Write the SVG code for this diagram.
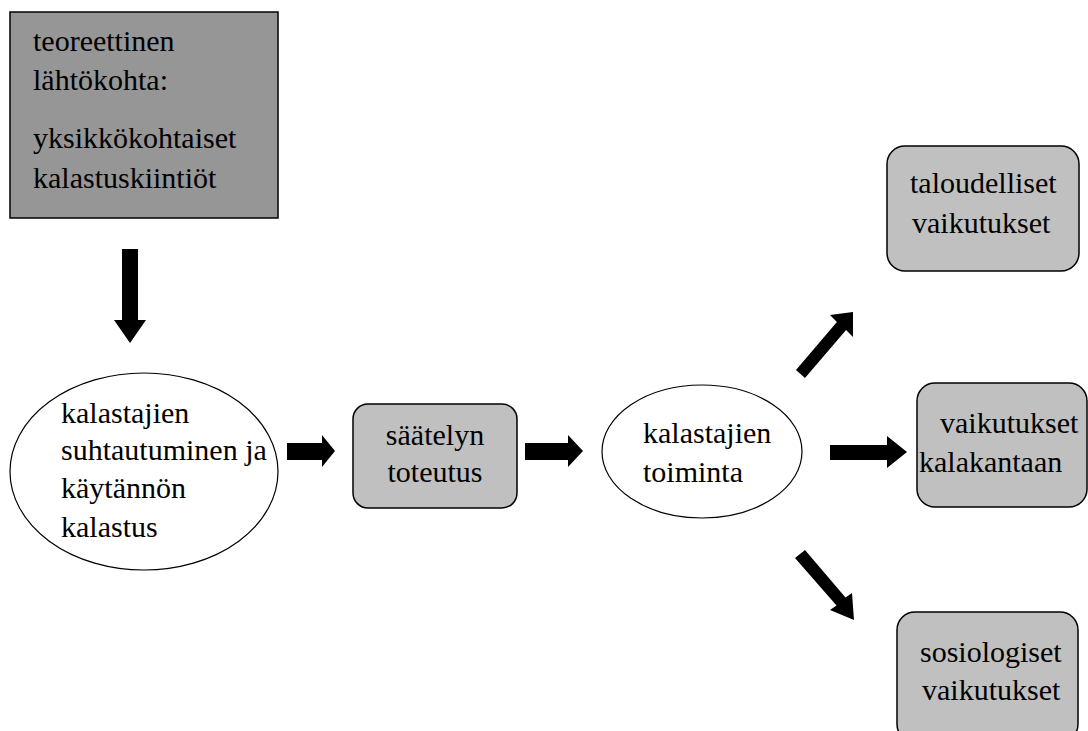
<svg xmlns="http://www.w3.org/2000/svg" width="1088" height="731" viewBox="0 0 1088 731">
<style>
.t{font-family:'Liberation Serif','Times New Roman',Tinos,'DejaVu Serif',serif;font-size:30px;fill:#000}
.dark{fill:#969696;stroke:#000;stroke-width:1.5}
.box{fill:#c0c0c0;stroke:#000;stroke-width:1.5}
.ell{fill:#fff;stroke:#000;stroke-width:1.2}
.arr{fill:#000}
</style>
<rect width="1088" height="731" fill="#fff"/>
<g id="n-theory">
<rect class="dark" x="10" y="12" width="268" height="206"/>
<text class="t" font-family="Liberation Serif, serif" x="33" y="51">teoreettinen</text>
<text class="t" font-family="Liberation Serif, serif" x="33" y="90">lähtökohta:</text>
<text class="t" font-family="Liberation Serif, serif" x="33" y="148">yksikkökohtaiset</text>
<text class="t" font-family="Liberation Serif, serif" x="33" y="188">kalastuskiintiöt</text>
</g>
<g id="n-attitude">
<ellipse class="ell" cx="144" cy="471.5" rx="134" ry="98.5"/>
<text class="t" x="61" y="423">kalastajien</text>
<text class="t" x="61" y="460">suhtautuminen ja</text>
<text class="t" x="61" y="498">käytännön</text>
<text class="t" x="61" y="537">kalastus</text>
</g>
<g id="n-implementation">
<rect class="box" x="353" y="404" width="164" height="104" rx="15"/>
<text class="t" x="435" y="445" text-anchor="middle">säätelyn</text>
<text class="t" x="435" y="482" text-anchor="middle">toteutus</text>
</g>
<g id="n-activity">
<ellipse class="ell" cx="702" cy="451.5" rx="100" ry="66.5"/>
<text class="t" x="643" y="443">kalastajien</text>
<text class="t" x="643" y="482">toiminta</text>
</g>
<g id="n-economic">
<rect class="box" x="887" y="146" width="192" height="125" rx="18"/>
<text class="t" x="910" y="193">taloudelliset</text>
<text class="t" x="912" y="233">vaikutukset</text>
</g>
<g id="n-stock">
<rect class="box" x="917" y="383" width="170" height="124" rx="18"/>
<text class="t" x="940" y="433">vaikutukset</text>
<text class="t" x="919" y="472">kalakantaan</text>
</g>
<g id="n-social">
<rect class="box" x="897" y="612" width="181" height="130" rx="18"/>
<text class="t" x="920" y="662">sosiologiset</text>
<text class="t" x="922" y="700">vaikutukset</text>
</g>
<g id="connectors">
<polygon class="arr" points="122,249 138,249 138,320 146,320 130,343 114,320 122,320"/>
<polygon class="arr" points="287,443 322,443 322,435 335,451 322,467 322,460 287,460"/>
<polygon class="arr" points="525,443 568,443 568,435 583,451 568,467 568,460 525,460"/>
<polygon class="arr" points="830,445 887,445 887,436 907,452 887,468 887,460 830,460"/>
<polygon class="arr" points="796,370 836.9,322.1 830,315 853,312 853,337 846.1,329.9 805,378"/>
<polygon class="arr" points="795,558 836.5,605.4 830,610 854,620 852,593 845.5,597.6 805,550"/>
</g>
</svg>
